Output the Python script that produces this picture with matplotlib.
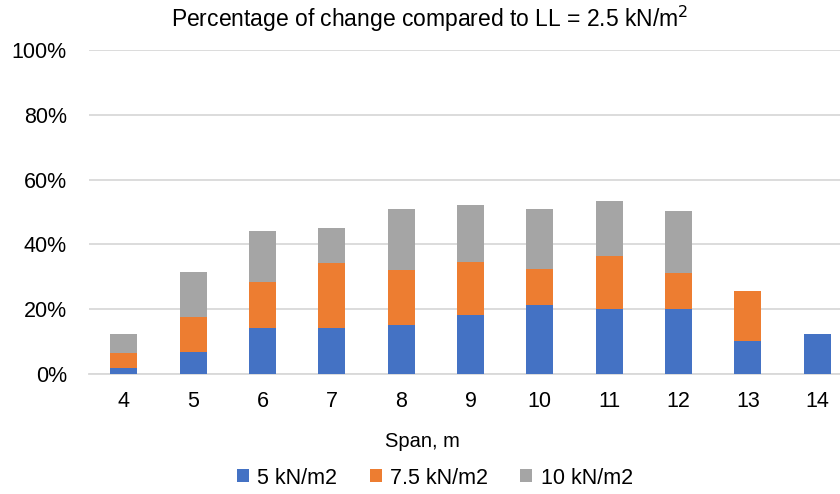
import matplotlib.pyplot as plt
import numpy as np

plt.rcParams['font.family'] = ['Liberation Sans', 'DejaVu Sans']

spans = ['4', '5', '6', '7', '8', '9', '10', '11', '12', '13', '14']
# stacked segment heights, in %
ll_5 = [1.8, 6.9, 14.2, 14.2, 15.2, 18.3, 21.4, 20.0, 20.0, 10.3, 12.4]
ll_75 = [4.8, 10.7, 14.2, 20.1, 17.0, 16.3, 11.1, 16.3, 11.1, 15.4, 0]
ll_10 = [5.9, 13.9, 15.7, 10.7, 18.7, 17.7, 18.4, 17.0, 19.2, 0, 0]
y_ticks = [0, 20, 40, 60, 80, 100]

fig = plt.figure(figsize=(8.4, 4.94), dpi=100)
ax = fig.add_axes([89/840, 120/494, 763/840, 324/494])

x = np.arange(len(spans))
w = 0.39
b1 = np.array(ll_5)
b2 = b1 + np.array(ll_75)
ax.bar(x, ll_5, w, color='#4472C4', label='5 kN/m2', zorder=3)
ax.bar(x, ll_75, w, bottom=b1, color='#ED7D31', label='7.5 kN/m2', zorder=3)
ax.bar(x, ll_10, w, bottom=b2, color='#A5A5A5', label='10 kN/m2', zorder=3)

ax.set_xlim(-0.5, len(spans) - 0.5)
ax.set_ylim(0, 100)
ax.set_yticks(y_ticks)
ax.set_yticklabels(['%d%%' % t for t in y_ticks], fontsize=15.5)
ax.set_xticks(x)
ax.set_xticklabels(spans, fontsize=15.5)
ax.tick_params(length=0)
ax.tick_params(axis='y', pad=16)
ax.tick_params(axis='x', pad=12)
ax.grid(axis='y', color='#D9D9D9', linewidth=1.3, zorder=0)
for s in ['top', 'left', 'right']:
    ax.spines[s].set_visible(False)
ax.spines['bottom'].set_color('#D9D9D9')
ax.spines['bottom'].set_linewidth(1.3)

fig.text(430/840, 1 - 19/494, 'Percentage of change compared to LL = 2.5 kN/m$^2$',
         ha='center', va='center', fontsize=16.5)
fig.text(422/840, 1 - 441/494, 'Span, m', ha='center', va='center', fontsize=14.5)

fig.legend(loc='center', bbox_to_anchor=(435/840, 1 - 478/494), ncol=3,
           frameon=False, fontsize=15.5, handlelength=0.55, handleheight=0.55,
           handletextpad=0.4, columnspacing=1.5)

plt.savefig('out.png', dpi=100)
